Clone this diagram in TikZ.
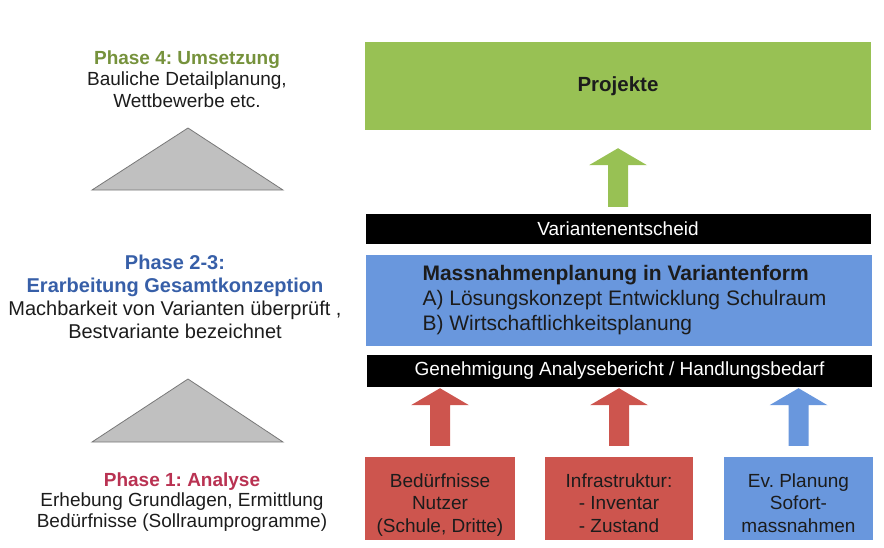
\documentclass[tikz,border=0pt]{standalone}
\usepackage{fontspec}
\setmainfont{Liberation Sans}
\usetikzlibrary{calc}
\frenchspacing
\definecolor{pgreen}{RGB}{152,193,84}
\definecolor{pblue}{RGB}{105,151,221}
\definecolor{pred}{RGB}{205,85,78}
\definecolor{tgreen}{RGB}{118,146,60}
\definecolor{tblue}{RGB}{55,95,168}
\definecolor{tred}{RGB}{185,50,82}
\definecolor{trifill}{RGB}{192,192,192}
\definecolor{triline}{RGB}{120,120,120}
\definecolor{ink}{RGB}{28,28,28}
\newcommand\blockup[3]{%
  \fill[#1] let \p1=(#2), \p2=(#3) in
    (\x1-10pt,\y1) -- (\x1-10pt,\y2-17pt) -- (\x1-29pt,\y2-17pt) -- (\x1,\y2)
    -- (\x1+29pt,\y2-17pt) -- (\x1+10pt,\y2-17pt) -- (\x1+10pt,\y1) -- cycle;}
\newcommand\toppad{\rule{0pt}{28pt}}
\newcommand\botpad{\rule[-6pt]{0pt}{6pt}}
\newcommand\lpad{\hspace*{12pt}}
\tikzset{
  basefont/.style={font=\fontsize{19}{22}\selectfont},
  lefttext/.style={basefont, align=center, text=ink, inner sep=0pt},
  bigbox/.style={fill=#1, inner sep=0pt, minimum width=506pt},
  barbox/.style={fill=black, text=white, inner sep=0pt, minimum width=505pt, basefont},
  smallbox/.style={fill=#1, inner sep=0pt, minimum height=83pt, align=center, text=ink,
    font=\fontsize{19}{22.5}\selectfont},
  tri/.style={fill=trifill, draw=triline, line width=0.8pt},
  garrow/.style={fill=pgreen},
  rarrow/.style={fill=pred},
  barrow/.style={fill=pblue}
}
\begin{document}
\begin{tikzpicture}[x=1pt,y=-1pt]
\useasboundingbox (0,0) rectangle (884,547);
% right column
\node[bigbox=pgreen, minimum height=88pt, text=ink, font=\fontsize{20.5}{24}\selectfont\bfseries]
  (proj) at (618,86) {Projekte};
\node[barbox, minimum height=30pt] (var) at (618,229) {Variantenentscheid};
\node[bigbox=pblue, minimum height=91pt, align=left, text=ink,
  font=\fontsize{21}{25}\selectfont] (mass) at (618.5,300.5)
  {\lpad\textbf{Massnahmenplanung in Variantenform}\\\lpad A) Lösungskonzept Entwicklung Schulraum\\\lpad B) Wirtschaftlichkeitsplanung};
\node[barbox, minimum height=32pt] (gen) at (619.5,371) {Genehmigung Analysebericht / Handlungsbedarf};
\node[smallbox=pred, minimum width=150pt] (b1) at (440,498.5) {\toppad Bedürfnisse\\Nutzer\\(Schule, Dritte)\botpad};
\node[smallbox=pred, minimum width=148pt] (b2) at (619,498.5) {\toppad Infrastruktur:\\- Inventar\\- Zustand\botpad};
\node[smallbox=pblue, minimum width=149pt] (b3) at (798.5,498.5) {\toppad Ev. Planung\\Sofort-\\massnahmen\botpad};
% arrows
\coordinate (gtail) at ($(var.north)+(0,-7)$);
\coordinate (gtip) at ($(var.north |- proj.south)+(0,18)$);
\blockup{garrow}{gtail}{gtip}
\coordinate (t1) at ($(b1.north)+(0,-11)$);
\coordinate (h1) at ($(b1.north |- gen.south)+(0,1)$);
\blockup{rarrow}{t1}{h1}
\coordinate (t2) at ($(b2.north)+(0,-11)$);
\coordinate (h2) at ($(b2.north |- gen.south)+(0,1)$);
\blockup{rarrow}{t2}{h2}
\coordinate (t3) at ($(b3.north)+(0,-11)$);
\coordinate (h3) at ($(b3.north |- gen.south)+(0,1)$);
\blockup{barrow}{t3}{h3}
% left column
\node[lefttext, font=\fontsize{19}{21.5}\selectfont] (p4) at (187,79)
  {{\bfseries\color{tgreen}Phase 4: Umsetzung}\\Bauliche Detailplanung,\\Wettbewerbe etc.};
\filldraw[tri] (92,190) -- (188,128) -- (283,190) -- cycle;
\node[lefttext, font=\fontsize{20}{23}\selectfont] (p23) at (175,296.5)
  {{\bfseries\color{tblue}Phase 2-3:}\\{\bfseries\color{tblue}Erarbeitung Gesamtkonzeption}\\Machbarkeit von Varianten überprüft ,\\Bestvariante bezeichnet};
\filldraw[tri] (92,442) -- (188,379) -- (283,442) -- cycle;
\node[lefttext, font=\fontsize{19}{20.5}\selectfont] (p1) at (182,502)
  {{\bfseries\color{tred}Phase 1: Analyse}\\Erhebung Grundlagen, Ermittlung\\Bedürfnisse (Sollraumprogramme)};
\end{tikzpicture}
\end{document}
